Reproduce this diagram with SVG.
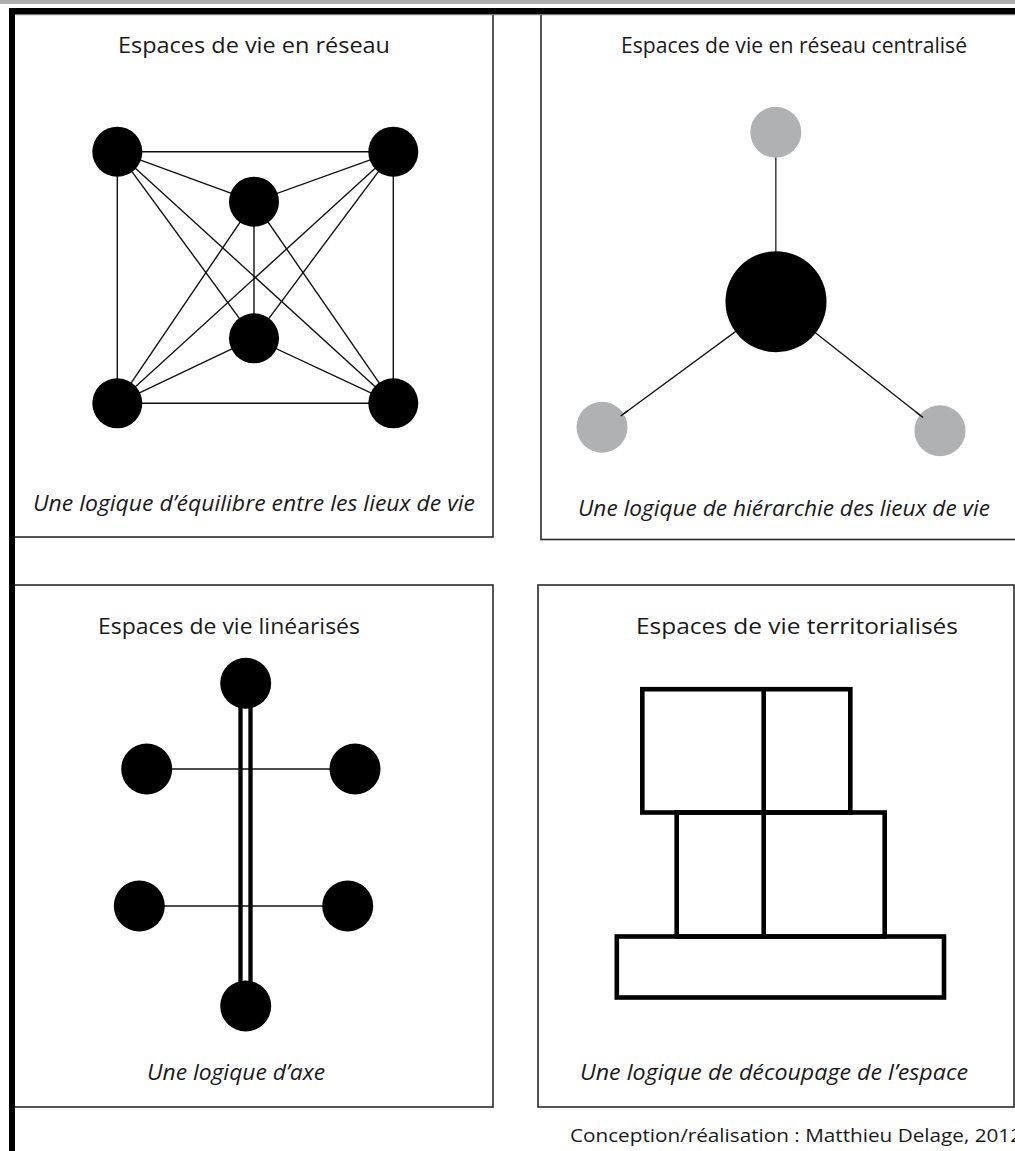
<svg xmlns="http://www.w3.org/2000/svg" width="1015" height="1151" viewBox="0 0 1015 1151">
<style>
.panel{fill:#fff;stroke:#2a2a2a;stroke-width:1.6}
.title{font-family:"Open Sans","Liberation Sans",sans-serif;font-size:22.5px;fill:#1a1a1a}
.cap{font-family:"Open Sans","Liberation Sans",sans-serif;font-size:22.5px;font-style:italic;fill:#1a1a1a}
.foot{font-family:"Open Sans","Liberation Sans",sans-serif;font-size:18px;fill:#1a1a1a}
.node{fill:#000}
.gnode{fill:#b0b1b3}
.edge{stroke:#111;stroke-width:1.4;fill:none}
.terr{fill:none;stroke:#000;stroke-width:4.6}
</style>
<rect x="0" y="0" width="1015" height="1151" fill="#fff"/>
<rect x="0" y="0" width="1015" height="4" fill="#adadad"/>

<g id="panel-reseau">
<rect class="panel" x="12" y="11" width="481" height="526"/>
<text class="title" x="118" y="53" textLength="272" lengthAdjust="spacingAndGlyphs">Espaces de vie en réseau</text>
<text class="cap" x="33" y="511" textLength="442" lengthAdjust="spacingAndGlyphs">Une logique d’équilibre entre les lieux de vie</text>
</g>
<g id="panel-centralise">
<rect class="panel" x="541" y="11" width="480" height="528.5"/>
<text class="title" x="621" y="53" textLength="346" lengthAdjust="spacingAndGlyphs">Espaces de vie en réseau centralisé</text>
<text class="cap" x="578" y="516" textLength="412" lengthAdjust="spacingAndGlyphs">Une logique de hiérarchie des lieux de vie</text>
</g>
<g id="panel-lineaire">
<rect class="panel" x="12" y="585" width="481" height="522"/>
<text class="title" x="98" y="634" textLength="262" lengthAdjust="spacingAndGlyphs">Espaces de vie linéarisés</text>
<text class="cap" x="147" y="1080" textLength="178" lengthAdjust="spacingAndGlyphs">Une logique d’axe</text>
</g>
<g id="panel-territoire">
<rect class="panel" x="538" y="585" width="476" height="522"/>
<text class="title" x="636" y="634" textLength="322" lengthAdjust="spacingAndGlyphs">Espaces de vie territorialisés</text>
<text class="cap" x="580" y="1080" textLength="388" lengthAdjust="spacingAndGlyphs">Une logique de découpage de l’espace</text>
</g>

<!-- frame -->
<rect x="9" y="8" width="1006" height="6" fill="#000"/>
<rect x="9" y="14" width="1006" height="1.2" fill="#777"/>
<rect x="9" y="8" width="6" height="1143" fill="#000"/>

<g id="connectors">
<line class="edge" x1="117.3" y1="151.7" x2="393.3" y2="151.7"/>
<line class="edge" x1="117.3" y1="403.3" x2="393.3" y2="403.3"/>
<line class="edge" x1="117.3" y1="151.7" x2="117.3" y2="403.3"/>
<line class="edge" x1="393.3" y1="151.7" x2="393.3" y2="403.3"/>
<line class="edge" x1="117.3" y1="151.7" x2="254" y2="201.7"/>
<line class="edge" x1="393.3" y1="151.7" x2="254" y2="201.7"/>
<line class="edge" x1="117.3" y1="403.3" x2="254" y2="338.3"/>
<line class="edge" x1="393.3" y1="403.3" x2="254" y2="338.3"/>
<line class="edge" x1="254" y1="201.7" x2="254" y2="338.3"/>
<line class="edge" x1="117.3" y1="151.7" x2="254" y2="338.3"/>
<line class="edge" x1="393.3" y1="151.7" x2="254" y2="338.3"/>
<line class="edge" x1="117.3" y1="403.3" x2="254" y2="201.7"/>
<line class="edge" x1="393.3" y1="403.3" x2="254" y2="201.7"/>
<line class="edge" x1="117.3" y1="151.7" x2="393.3" y2="403.3"/>
<line class="edge" x1="393.3" y1="151.7" x2="117.3" y2="403.3"/>
<line class="edge" x1="775.8" y1="132.3" x2="775.8" y2="301.7" style="stroke:#444;stroke-width:1.6"/>
<line class="edge" x1="620.7" y1="416" x2="776" y2="301.7"/>
<line class="edge" x1="923" y1="417.5" x2="776" y2="301.7"/>
<line class="edge" x1="146.7" y1="769" x2="355" y2="769"/>
<line class="edge" x1="139.3" y1="906" x2="347.7" y2="906"/>
<line x1="240.5" y1="683" x2="240.5" y2="1006" stroke="#000" stroke-width="4.3"/>
<line x1="250.5" y1="683" x2="250.5" y2="1006" stroke="#000" stroke-width="4.3"/>
</g>

<g id="n-tl"><circle class="node" cx="117.3" cy="151.7" r="25"/></g>
<g id="n-tr"><circle class="node" cx="393.3" cy="151.7" r="25"/></g>
<g id="n-ct"><circle class="node" cx="254" cy="201.7" r="25"/></g>
<g id="n-cb"><circle class="node" cx="254" cy="338.3" r="25"/></g>
<g id="n-bl"><circle class="node" cx="117.3" cy="403.3" r="25"/></g>
<g id="n-br"><circle class="node" cx="393.3" cy="403.3" r="25"/></g>

<g id="c-top"><circle class="gnode" cx="775.8" cy="132.3" r="25.5"/></g>
<g id="c-center"><circle class="node" cx="776" cy="301.7" r="50.5"/></g>
<g id="c-bl"><circle class="gnode" cx="602" cy="427.3" r="25.5"/></g>
<g id="c-br"><circle class="gnode" cx="940" cy="430.7" r="25.5"/></g>
<line class="edge" x1="620.7" y1="416" x2="628" y2="410.6"/>
<line class="edge" x1="923" y1="417.5" x2="916" y2="412"/>

<g id="l-top"><circle class="node" cx="245.7" cy="683.3" r="25.5"/></g>
<g id="l-bottom"><circle class="node" cx="245.7" cy="1006" r="25.5"/></g>
<g id="l-ul"><circle class="node" cx="146.7" cy="769" r="25.5"/></g>
<g id="l-ur"><circle class="node" cx="355" cy="769" r="25.5"/></g>
<g id="l-ll"><circle class="node" cx="139.3" cy="906" r="25.5"/></g>
<g id="l-lr"><circle class="node" cx="347.7" cy="906" r="25.5"/></g>

<g id="territoire">
<rect class="terr" x="642.3" y="689.2" width="208" height="123.3"/>
<rect class="terr" x="676.7" y="812.5" width="208" height="124"/>
<rect class="terr" x="616.8" y="936.5" width="327.2" height="61"/>
<line class="terr" x1="763.7" y1="689.2" x2="763.7" y2="936.5"/>
</g>

<text class="foot" x="570" y="1142" textLength="452" lengthAdjust="spacingAndGlyphs">Conception/réalisation : Matthieu Delage, 2012</text>
</svg>
